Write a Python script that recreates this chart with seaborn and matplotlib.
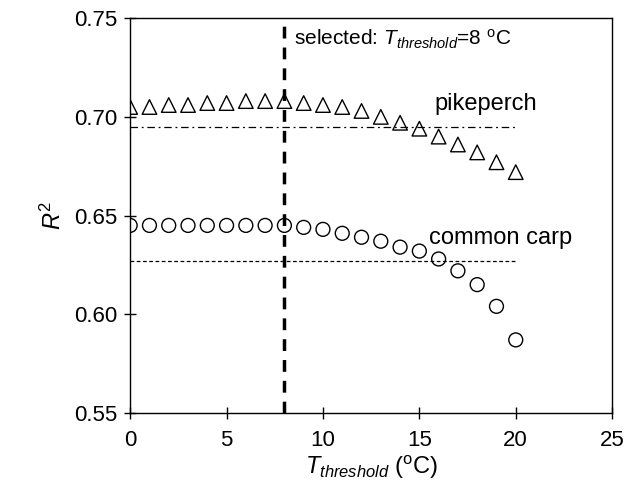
import numpy as np
import pandas as pd
import seaborn as sns
import matplotlib
matplotlib.use('Agg')
import matplotlib.pyplot as plt

# Daten
t_threshold = list(range(0, 21))
r2_pikeperch = [0.705, 0.705, 0.706, 0.706, 0.707, 0.707, 0.708, 0.708, 0.708,
                0.707, 0.706, 0.705, 0.703, 0.700, 0.697, 0.694, 0.690, 0.686,
                0.682, 0.677, 0.672]
r2_carp = [0.645, 0.645, 0.645, 0.645, 0.645, 0.645, 0.645, 0.645, 0.645,
           0.644, 0.643, 0.641, 0.639, 0.637, 0.634, 0.632, 0.628, 0.622,
           0.615, 0.604, 0.587]
ref_pikeperch = 0.695
ref_carp = 0.627
t_selected = 8
ref_x_range = [0, 20]

sns.set_theme(style='ticks')
plt.rcParams['font.family'] = ['Liberation Sans', 'DejaVu Sans']
plt.rcParams['mathtext.fontset'] = 'custom'
plt.rcParams['mathtext.rm'] = 'Liberation Sans'
plt.rcParams['mathtext.it'] = 'Liberation Sans:italic'
plt.rcParams['text.color'] = 'black'
plt.rcParams['axes.labelcolor'] = 'black'

df = pd.DataFrame({'T': t_threshold, 'pikeperch': r2_pikeperch, 'carp': r2_carp})

fig = plt.figure(figsize=(6.35, 4.91), dpi=100)
ax = fig.add_axes([0.205, 0.159, 0.759, 0.804])

# Referenzlinien
ax.plot(ref_x_range, [ref_pikeperch] * 2, color='black', lw=0.9, ls=(0, (6, 3, 1.5, 3)))
ax.plot(ref_x_range, [ref_carp] * 2, color='black', lw=0.9, ls=(0, (3, 2)))
ax.axvline(t_selected, color='black', lw=2.5, ls=(0, (3.4, 2.6)))

sns.scatterplot(data=df, x='T', y='pikeperch', marker='^', s=110, facecolor='none',
                edgecolor='black', linewidth=1.0, ax=ax, zorder=3)
sns.scatterplot(data=df, x='T', y='carp', marker='o', s=100, facecolor='none',
                edgecolor='black', linewidth=1.0, ax=ax, zorder=3)

ax.text(15.8, 0.7065, 'pikeperch', fontsize=17, va='center', color='black')
ax.text(15.5, 0.6388, 'common carp', fontsize=17, va='center', color='black')
ax.text(8.5, 0.7392, r'selected: $T_{threshold}$=8 $^{\rm o}$C', fontsize=15,
        va='center', color='black')

ax.set_xlim(0, 25)
ax.set_ylim(0.55, 0.75)
ax.set_xticks([0, 5, 10, 15, 20, 25])
ax.set_yticks([0.55, 0.60, 0.65, 0.70, 0.75])
ax.set_yticklabels(['0.55', '0.60', '0.65', '0.70', '0.75'])
ax.tick_params(axis='both', direction='inout', length=8, width=1, labelsize=16,
               colors='black', pad=5, bottom=True, left=True)
ax.tick_params(axis='x', pad=8)
for sp in ax.spines.values():
    sp.set_visible(True)
    sp.set_color('black')
    sp.set_linewidth(1.0)

ax.set_xlabel(r'$T_{threshold}$ ($^{\rm o}$C)', fontsize=17, color='black', labelpad=2)
ax.set_ylabel(r'$R^2$', fontsize=17, color='black', labelpad=6)

fig.savefig('out.png', dpi=100)
